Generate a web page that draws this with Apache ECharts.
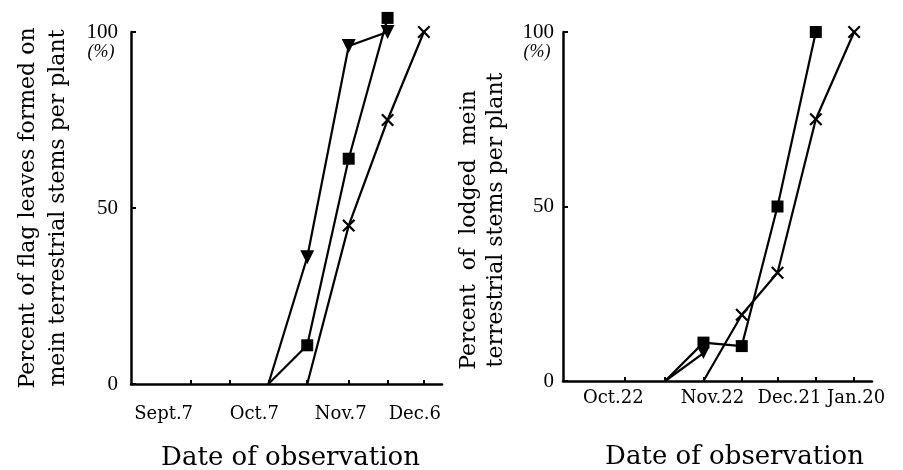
<!DOCTYPE html>
<html>
<head>
<meta charset="utf-8">
<script src="https://cdn.jsdelivr.net/npm/echarts@6/dist/echarts.min.js"></script>
<style>
html,body{margin:0;padding:0;background:#fff;}
#c{width:903px;height:470px;}
</style>
</head>
<body>
<div id="c"></div>
<script>
// ---- Left panel: flag leaves (day numbers counted from Sept.1) ----
const leftDateNames = ['Sept.7','Sept.22','Oct.7','Oct.22','Nov.7','Nov.22','Dec.6'];
const leftDateDays  = [6, 21, 36, 51, 67, 82, 96];
const leftLabelDates = ['Sept.7','Oct.7','Nov.7','Dec.6'];
const leftTriangleDates  = ['Oct.7','Oct.22','Nov.7','Nov.22'];
const leftTriangleValues = [0, 36, 96, 100];
const leftSquareDates  = ['Oct.7','Oct.22','Nov.7','Nov.22'];
const leftSquareValues = [0, 11, 64, 104];
const leftCrossDates  = ['Oct.22','Nov.7','Nov.22','Dec.6'];
const leftCrossValues = [0, 45, 75, 100];

// ---- Right panel: lodging (day numbers counted from Oct.1) ----
const rightDateNames = ['Oct.22','Nov.7','Nov.22','Dec.7','Dec.21','Jan.5','Jan.20'];
const rightDateDays  = [21, 37, 52, 67, 81, 96, 111];
const rightLabelDates = ['Oct.22','Nov.22','Dec.21','Jan.20'];
const rightTriangleDates  = ['Nov.7','Nov.22'];
const rightTriangleValues = [0, 8];
const rightSquareDates  = ['Nov.7','Nov.22','Dec.7','Dec.21','Jan.5'];
const rightSquareValues = [0, 11, 10, 50, 100];
const rightCrossDates  = ['Nov.22','Dec.7','Dec.21','Jan.5','Jan.20'];
const rightCrossValues = [0, 19, 31, 75, 100];

const yTicks = [0, 50, 100];

// ---- styling ----
const FONT = 'DejaVu Serif';
const leftLabelShift  = [-27, -14, -8, -9];
const rightLabelShift = [-11, 9, 12, 2];
const CROSS = 'path://M0,1.2L1.2,0L5,3.8L8.8,0L10,1.2L6.2,5L10,8.8L8.8,10L5,6.2L1.2,10L0,8.8L3.8,5Z';

function dayOf(names, days, d){ return days[names.indexOf(d)]; }
function pts(names, days, dates, vals){
  return dates.map((d,i)=>{
    const item = {value:[dayOf(names,days,d), vals[i]]};
    if (vals[i] === 0) item.symbol = 'none';
    return item;
  });
}
function richFor(shifts){
  const r = {};
  shifts.forEach((s,i)=>{
    r['s'+i] = {fontFamily:FONT, fontSize:18, color:'#000',
      padding: s<0 ? [0, -2*s, 0, 0] : [0, 0, 0, 2*s]};
  });
  return r;
}
function xAxisFor(gi, names, days, labels, shifts, min, max, margin, namePad, nameGap){
  const labelDays = labels.map(l=>dayOf(names,days,l));
  return {
    type:'value', gridIndex:gi, min:min, max:max,
    axisLine:{show:true, onZero:false, lineStyle:{color:'#000', width:2.5}},
    axisTick:{show:true, inside:true, length:4, lineStyle:{color:'#000', width:2}, customValues:days},
    axisLabel:{show:true, margin:margin, customValues:labelDays, color:'#000',
      fontFamily:FONT, fontSize:18,
      formatter:function(v){ const i = labelDays.indexOf(v); return i<0 ? '' : '{s'+i+'|'+labels[i]+'}'; },
      rich: richFor(shifts)},
    splitLine:{show:false},
    name:'Date of observation', nameLocation:'middle', nameGap:nameGap,
    nameTextStyle:{fontFamily:FONT, fontSize:26, color:'#000', padding:namePad}
  };
}
function yAxisFor(gi, margin){
  return {
    type:'value', gridIndex:gi, min:0, max:100,
    axisLine:{show:true, onZero:false, lineStyle:{color:'#000', width:2.5}},
    axisTick:{show:true, inside:true, length:5, lineStyle:{color:'#000', width:2}, customValues:yTicks},
    axisLabel:{show:true, margin:margin, customValues:yTicks, color:'#000', fontFamily:'Liberation Serif', fontSize:21},
    splitLine:{show:false}
  };
}
function lineSeries(xi, data, symbol, size, rotate){
  return {
    type:'line', xAxisIndex:xi, yAxisIndex:xi, data:data, clip:false,
    symbol:symbol, symbolSize:size, symbolRotate:rotate||0,
    lineStyle:{color:'#000', width:2.2}, itemStyle:{color:'#000'},
    animation:false, z:3
  };
}

const chart = echarts.init(document.getElementById('c'), null, {renderer:'canvas'});
chart.setOption({
  backgroundColor:'#fff',
  animation:false,
  grid:[
    {left:131, top:32, width:311, height:352, containLabel:false, outerBoundsMode:'none'},
    {left:563, top:32, width:309, height:349, containLabel:false, outerBoundsMode:'none'}
  ],
  xAxis:[
    xAxisFor(0, leftDateNames, leftDateDays, leftLabelDates, leftLabelShift, -17, 103, 21, [0,0,0,8], 61),
    xAxisFor(1, rightDateNames, rightDateDays, rightLabelDates, rightLabelShift, -3, 118, 8, [0,0,0,34], 63)
  ],
  yAxis:[ yAxisFor(0, 13), yAxisFor(1, 9) ],
  series:[
    lineSeries(0, pts(leftDateNames,leftDateDays,leftTriangleDates,leftTriangleValues), 'triangle', 14, 180),
    lineSeries(0, pts(leftDateNames,leftDateDays,leftSquareDates,leftSquareValues), 'rect', 12),
    lineSeries(0, pts(leftDateNames,leftDateDays,leftCrossDates,leftCrossValues), CROSS, 13),
    lineSeries(1, pts(rightDateNames,rightDateDays,rightTriangleDates,rightTriangleValues), 'triangle', 12, 180),
    lineSeries(1, pts(rightDateNames,rightDateDays,rightSquareDates,rightSquareValues), 'rect', 12),
    lineSeries(1, pts(rightDateNames,rightDateDays,rightCrossDates,rightCrossValues), CROSS, 13)
  ],
  graphic:[
    {type:'text', x:101, y:52, style:{text:'(%)', fontFamily:'Liberation Serif', fontStyle:'italic', fontSize:18, fill:'#000', align:'center', verticalAlign:'middle'}},
    {type:'text', x:537, y:52, style:{text:'(%)', fontFamily:'Liberation Serif', fontStyle:'italic', fontSize:18, fill:'#000', align:'center', verticalAlign:'middle'}},
    {type:'text', x:28, y:208, rotation:Math.PI/2, style:{text:'Percent of flag leaves formed on', fontFamily:FONT, fontSize:22, fill:'#000', align:'center', verticalAlign:'middle'}},
    {type:'text', x:58, y:208, rotation:Math.PI/2, style:{text:'mein terrestrial stems per plant', fontFamily:FONT, fontSize:22, fill:'#000', align:'center', verticalAlign:'middle'}},
    {type:'text', x:469, y:230, rotation:Math.PI/2, style:{text:'Percent  of  lodged  mein', fontFamily:FONT, fontSize:22, fill:'#000', align:'center', verticalAlign:'middle'}},
    {type:'text', x:496, y:220, rotation:Math.PI/2, style:{text:'terrestrial stems per plant', fontFamily:FONT, fontSize:22, fill:'#000', align:'center', verticalAlign:'middle'}}
  ]
});
</script>
</body>
</html>
